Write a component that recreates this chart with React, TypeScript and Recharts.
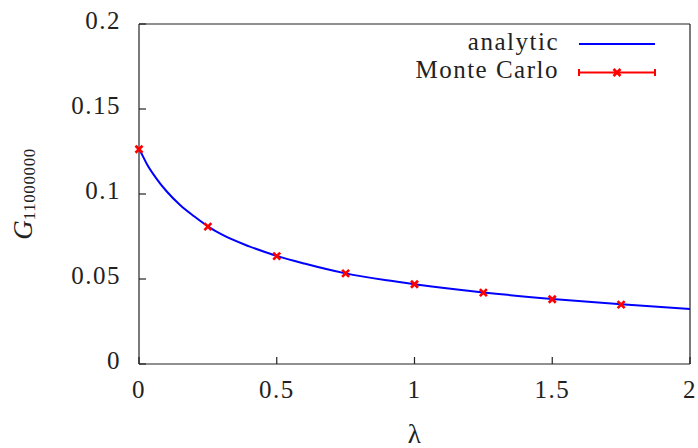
import React from 'react';
import { ComposedChart, Line, XAxis, YAxis } from 'recharts';

// analytic curve, sampled densely near λ = 0 where it falls steeply
const analyticLambda = [0, 0.01, 0.03, 0.06, 0.1, 0.15, 0.2, 0.25, 0.3, 0.4, 0.5, 0.6, 0.75, 0.9, 1.0, 1.25, 1.5, 1.75, 2.0];
const analyticG = [0.1265, 0.1235, 0.1172, 0.1098, 0.1016, 0.0934, 0.0869, 0.0810, 0.0762, 0.0692, 0.0636, 0.0591, 0.0533, 0.0492, 0.0469, 0.0421, 0.0383, 0.0351, 0.0324];

// Monte Carlo estimates
const mcLambda = [0, 0.25, 0.5, 0.75, 1.0, 1.25, 1.5, 1.75];
const mcG = [0.1263, 0.0808, 0.0635, 0.0533, 0.0469, 0.0420, 0.0381, 0.0349];

const xTicks = [0, 0.5, 1, 1.5, 2];
const yTicks = [0, 0.05, 0.1, 0.15, 0.2];

const analyticData = analyticLambda.map((lambda, i) => ({ lambda, g: analyticG[i] }));
const mcData = mcLambda.map((lambda, i) => ({ lambda, g: mcG[i] }));

const FONT = '"Liberation Serif", "Times New Roman", serif';
const INK = '#222';
const TICK = 7;

const labelStyle = { fontFamily: FONT, fontSize: 25, fill: INK, letterSpacing: 1.5 };

const BottomTick = ({ x, y, payload }: any) => (
    <g>
        <line x1={x} x2={x} y1={y} y2={y - TICK} stroke={INK} strokeWidth={1.2} />
        <text x={x} y={y + 34} textAnchor="middle" style={labelStyle}>{payload.value}</text>
    </g>
);

const TopTick = ({ x, y }: any) => (
    <line x1={x} x2={x} y1={y} y2={y + TICK} stroke={INK} strokeWidth={1.2} />
);

const LeftTick = ({ x, y, payload }: any) => (
    <g>
        <line x1={x} x2={x + TICK} y1={y} y2={y} stroke={INK} strokeWidth={1.2} />
        <text x={x - 18} y={y + 5} textAnchor="end" style={labelStyle}>{payload.value}</text>
    </g>
);

const RightTick = ({ x, y }: any) => (
    <line x1={x} x2={x - TICK} y1={y} y2={y} stroke={INK} strokeWidth={1.2} />
);

const Cross = ({ cx, cy }: any) => {
    if (cx == null || cy == null) return null;
    const s = 3.5;
    return (
        <g stroke="#ff0000" strokeWidth={2.6}>
            <line x1={cx - s} y1={cy - s} x2={cx + s} y2={cy + s} />
            <line x1={cx - s} y1={cy + s} x2={cx + s} y2={cy - s} />
        </g>
    );
};

const axisLine = { stroke: INK, strokeWidth: 1.2 };

export default function App() {
    return (
        <div style={{ position: 'absolute', left: 0, top: 0, width: 698, height: 448, background: '#fff' }}>
            <ComposedChart width={698} height={448} margin={{ top: 23, right: 7, bottom: 83, left: 138 }}>
                <XAxis
                    xAxisId="b"
                    dataKey="lambda"
                    type="number"
                    domain={[0, 2]}
                    ticks={xTicks}
                    height={1}
                    tickSize={0}
                    tickMargin={0}
                    tickLine={false}
                    axisLine={axisLine}
                    tick={<BottomTick />}
                    interval={0}
                />
                <XAxis
                    xAxisId="t"
                    orientation="top"
                    dataKey="lambda"
                    type="number"
                    domain={[0, 2]}
                    ticks={xTicks}
                    height={1}
                    tickSize={0}
                    tickMargin={0}
                    tickLine={false}
                    axisLine={axisLine}
                    tick={<TopTick />}
                    interval={0}
                />
                <YAxis
                    yAxisId="l"
                    dataKey="g"
                    type="number"
                    domain={[0, 0.2]}
                    ticks={yTicks}
                    width={1}
                    tickSize={0}
                    tickMargin={0}
                    tickLine={false}
                    axisLine={axisLine}
                    tick={<LeftTick />}
                    interval={0}
                />
                <YAxis
                    yAxisId="r"
                    orientation="right"
                    dataKey="g"
                    type="number"
                    domain={[0, 0.2]}
                    ticks={yTicks}
                    width={1}
                    tickSize={0}
                    tickMargin={0}
                    tickLine={false}
                    axisLine={axisLine}
                    tick={<RightTick />}
                    interval={0}
                />
                <Line
                    xAxisId="b"
                    yAxisId="l"
                    data={analyticData}
                    dataKey="g"
                    type="monotone"
                    stroke="#0000ff"
                    strokeWidth={2}
                    dot={false}
                    isAnimationActive={false}
                />
                <Line
                    xAxisId="b"
                    yAxisId="l"
                    data={mcData}
                    dataKey="g"
                    stroke="none"
                    dot={<Cross />}
                    activeDot={false}
                    isAnimationActive={false}
                />
            </ComposedChart>

            {/* axis titles and key */}
            <svg width={698} height={448} style={{ position: 'absolute', left: 0, top: 0, pointerEvents: 'none' }}>
                <text x={415} y={443} textAnchor="middle" style={{ ...labelStyle, fontSize: 27 }}>λ</text>
                <text transform="translate(32,194) rotate(-90)" textAnchor="middle" style={{ fontFamily: FONT, fill: INK }}>
                    <tspan fontStyle="italic" fontSize={27}>G</tspan>
                    <tspan fontSize={17} dy={3} letterSpacing={0.6}>11000000</tspan>
                </text>

                <text x={559} y={50} textAnchor="end" style={labelStyle}>analytic</text>
                <line x1={579} x2={655} y1={44} y2={44} stroke="#0000ff" strokeWidth={2} />

                <text x={559} y={78} textAnchor="end" style={labelStyle}>Monte Carlo</text>
                <g stroke="#ff0000" strokeWidth={2}>
                    <line x1={579} x2={655} y1={72.5} y2={72.5} />
                    <line x1={579} x2={579} y1={69} y2={76} />
                    <line x1={655} x2={655} y1={69} y2={76} />
                </g>
                <Cross cx={617} cy={72.5} />
            </svg>
        </div>
    );
}
